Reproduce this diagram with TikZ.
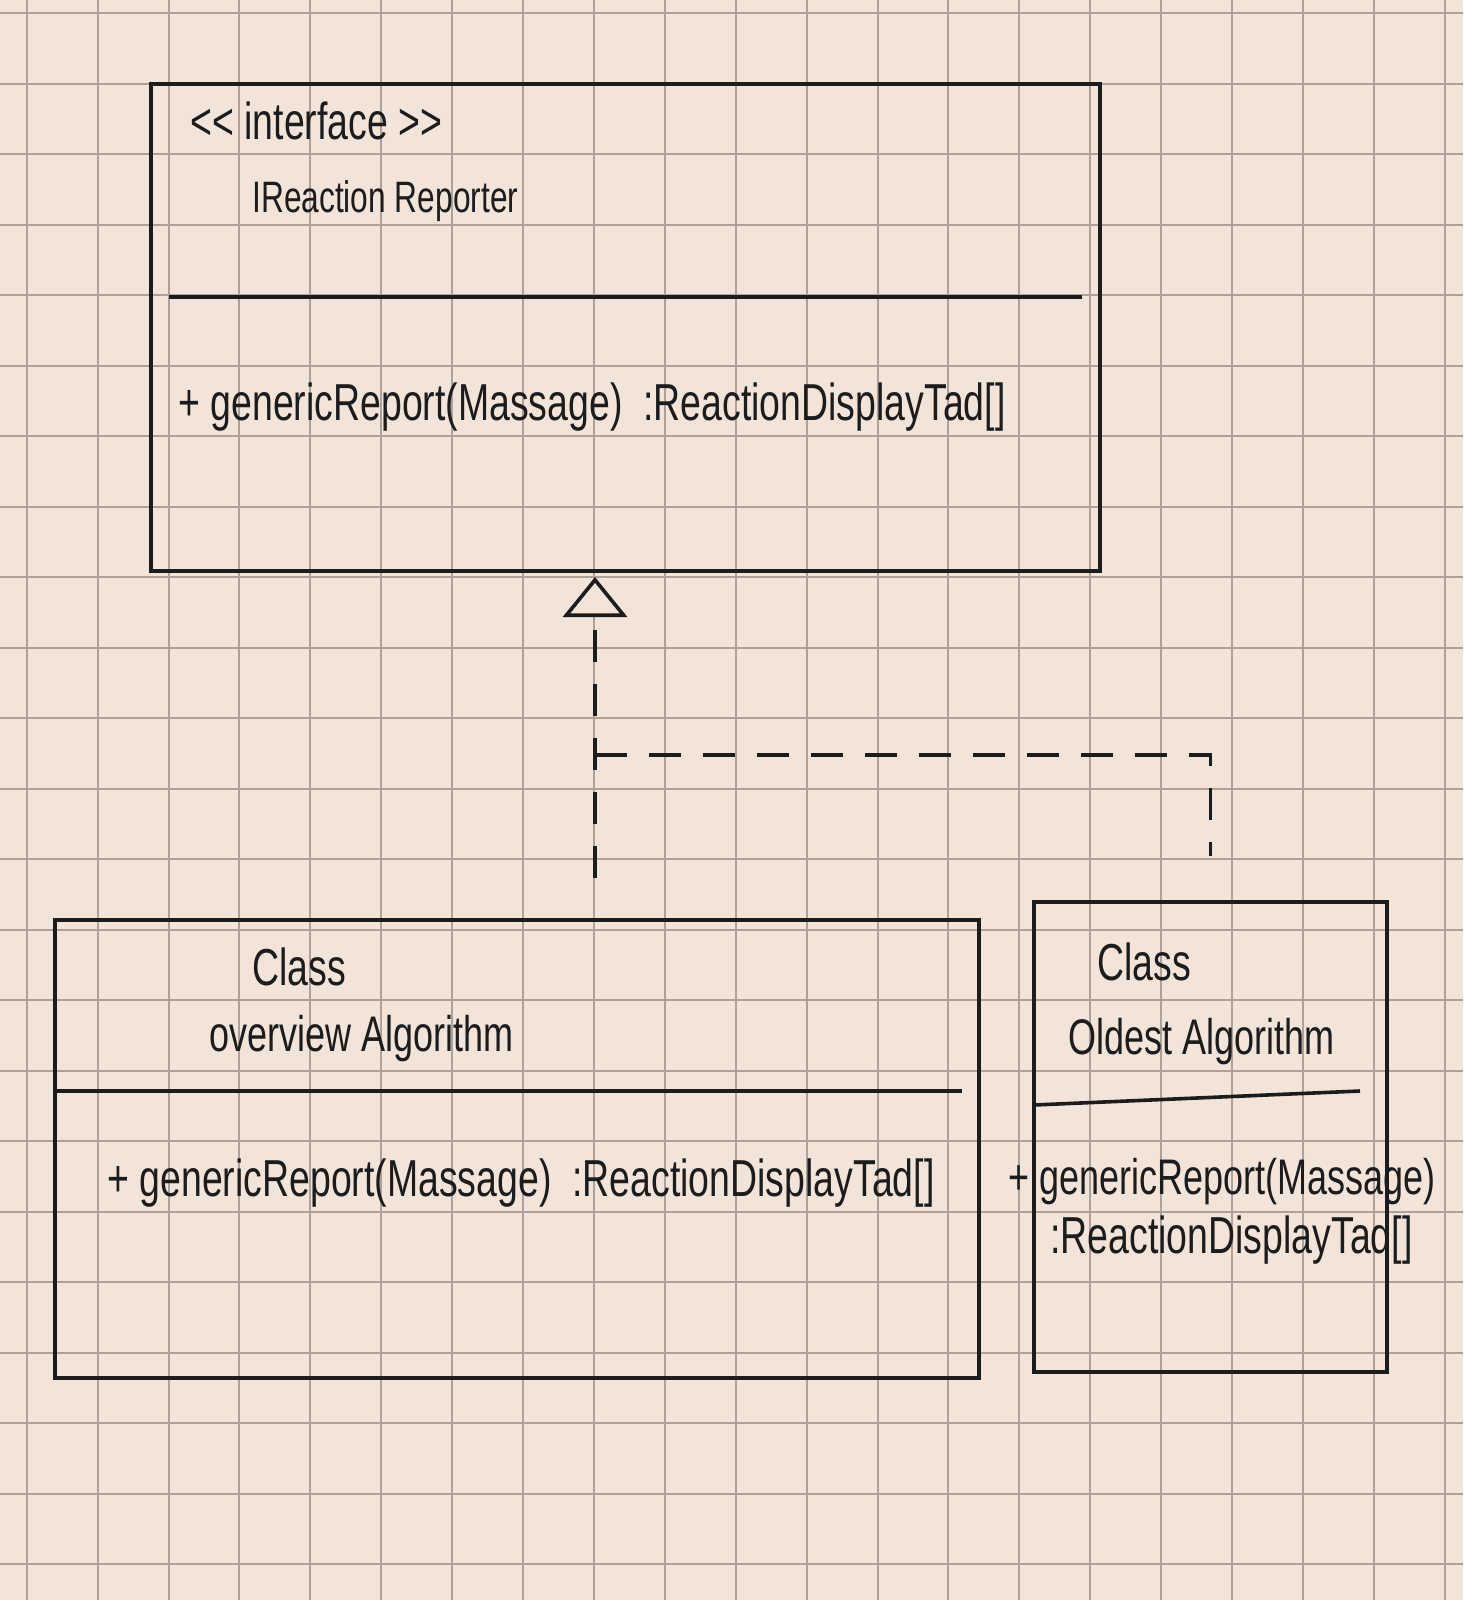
\documentclass[tikz,border=0pt]{standalone}
\usepackage{fontspec}
\setmainfont{Liberation Sans}[FakeStretch=0.72]
\usetikzlibrary{arrows.meta,positioning,calc}
\definecolor{paper}{HTML}{F3E4D9}
\definecolor{gridline}{HTML}{ADA19A}
\definecolor{ink}{HTML}{1C1C1C}

\begin{document}
\begin{tikzpicture}[
      x=0.5pt, y=-0.5pt,
      every node/.style={font=\fontsize{26}{30}\selectfont, text=ink},
      umlbox/.style={draw=ink,line width=2pt,anchor=north west,inner sep=0pt},
      divline/.style={draw=ink,line width=1.8pt},
      txt/.style={anchor=base west,inner sep=0pt},
      realize/.style={draw=ink,line width=1.8pt,dash pattern=on 16pt off 11pt}
  ]
    \fill[paper] (0,0) rectangle (1463,1600);
    \useasboundingbox (0,0) rectangle (1463,1600);
    \foreach \i in {0,...,20}
      \draw[gridline,line width=1pt] (26.7+70.9*\i,0) -- (26.7+70.9*\i,1600);
    \foreach \j in {0,...,22}
      \draw[gridline,line width=1pt] (0,13.3+70.5*\j) -- (1463,13.3+70.5*\j);

    \node[umlbox, minimum width=474.5pt, minimum height=243.5pt] (iface) at (149,82) {};
    \node[umlbox, minimum width=462pt, minimum height=229pt] (lc) at (53,918) {};
    \node[umlbox, minimum width=176.5pt, minimum height=235pt] (oc) at (1032,900) {};

    \draw[divline] (169,297) -- (1082,297);
    \draw[divline] (53,1091) -- (962,1091);
    \draw[divline] (1034,1105) -- (1360,1091);

    \node[txt] (stereo) at (190,140) {<{}< interface >{}>};
    \node[txt, font=\fontsize{22}{26}\selectfont] (iname) at (252,212) {IReaction Reporter};
    \node[txt] (imeth) at (178,420) {+ genericReport(Massage) \ :ReactionDisplayTad[]};

    \node[txt] (lkind) at (252,985) {Class};
    \node[txt, font=\fontsize{25}{30}\selectfont] (lname) at (209,1051) {overview Algorithm};
    \node[txt] (lmeth) at (107,1196) {+ genericReport(Massage) \ :ReactionDisplayTad[]};

    \node[txt] (okind) at (1097,980) {Class};
    \node[txt, font=\fontsize{25}{30}\selectfont] (oname) at (1068,1054) {Oldest Algorithm};
    \node[txt, font=\fontsize{25}{30}\selectfont] (ometh) at (1008,1194) {+ genericReport(Massage)};
    \node[txt] (oret) at (1050,1253) {:ReactionDisplayTad[]};

    \coordinate (bend) at (595,755);
    \draw[realize, shorten <=20pt, shorten >=2pt,
          -{Triangle[open,length=20pt,width=32pt,fill=paper]}]
      (lc.north -| bend) -- (iface.south -| bend);
    \draw[realize, shorten >=22pt] (bend) -- (bend -| oc.north) -- (oc.north);
  \end{tikzpicture}
\end{document}
